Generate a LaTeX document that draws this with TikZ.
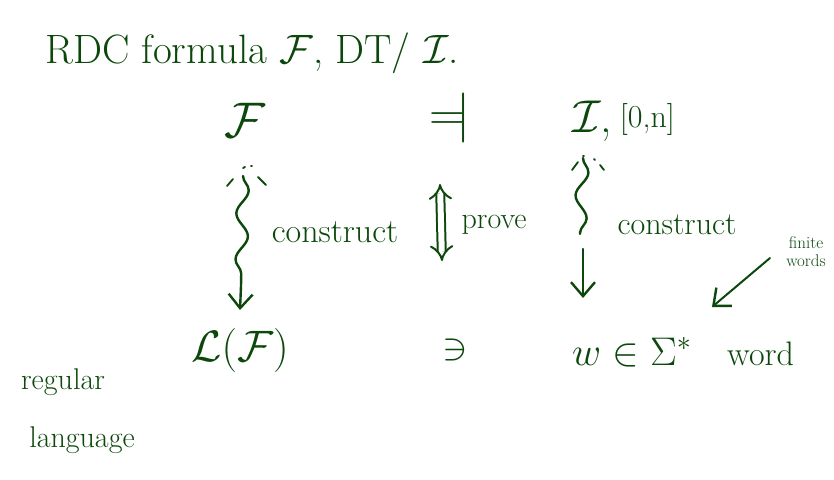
\RequirePackage{fix-cm}
\documentclass[tikz,border=0pt]{standalone}
\usepackage{graphicx}
\usepackage{amssymb}
\usetikzlibrary{arrows.meta,decorations.pathmorphing}
\definecolor{ink}{RGB}{12,72,12}
\tikzset{
  inkline/.style={draw=ink, line width=2.4pt, line cap=round, line join=round},
  inkthin/.style={draw=ink, line width=1.8pt, line cap=round},
  txt/.style={text=ink, inner sep=0pt},
  barb/.style={-{Straight Barb[length=14pt,width=24pt,line width=2.4pt]}},
  wiggle/.style={decorate, decoration={snake, amplitude=6pt, segment length=46pt}}
}
\begin{document}
\begin{tikzpicture}[x=1pt,y=-1pt]
\useasboundingbox (0,0) rectangle (834,479);
% title
\node[txt, anchor=base west, font=\fontsize{41}{44}\selectfont] (title) at (45,63) {RDC formula $\mathcal{F}$, DT/ $\mathcal{I}$.};
% top row
\node[txt, font=\fontsize{50}{54}\selectfont] (F) at (245,120) {$\mathcal{F}$};
\node[txt, font=\fontsize{50}{54}\selectfont] (mod) at (450,118) {\reflectbox{$\models$}};
\node[txt, anchor=base west, font=\fontsize{46}{50}\selectfont] (I) at (572,132) {$\mathcal{I}$,\,\raisebox{5pt}{\fontsize{32}{34}\selectfont[0,n]}};
% bottom row
\node[txt, font=\fontsize{44}{48}\selectfont] (L) at (240,350) {$\mathcal{L}(\mathcal{F})$};
\node[txt, font=\fontsize{38}{40}\selectfont] (ni) at (455,350) {$\ni$};
\node[txt, anchor=base west, font=\fontsize{40}{44}\selectfont] (w) at (572,365) {$w\in\Sigma^{*}$};
\node[txt, anchor=base west, font=\fontsize{34}{38}\selectfont] (word) at (727,365) {word};
% labels
\node[txt, font=\fontsize{34}{38}\selectfont] (c1) at (335,232) {construct};
\node[txt, font=\fontsize{30}{32}\selectfont] (prove) at (494,225) {prove};
\node[txt, font=\fontsize{32}{36}\selectfont] (c2) at (677,225) {construct};
\node[txt, align=center, font=\fontsize{17}{18}\selectfont] (fw) at (806,252) {finite\\words};
\node[txt, font=\fontsize{30}{34}\selectfont] (reg) at (63,382) {regular};
\node[txt, font=\fontsize{30}{34}\selectfont] (lang) at (82,440) {language};
% left construct arrow
\coordinate (la0) at (243,176);
\coordinate (la1) at (241,286);
\coordinate (la2) at (240,310);
\draw[inkline, wiggle] (la0) -- (la1);
\draw[inkline, barb] (la1) -- (la2);
\draw[inkthin] (227,186) -- (233,179);
\draw[inkthin] (243,168) -- (245,167);
\draw[inkthin] (251,166) -- (252,166);
\draw[inkthin] (258,177) -- (266,185);
% prove double arrow
\coordinate (pt) at (440,184);
\coordinate (pb) at (442,261);
\draw[draw=ink, line width=2pt, double=white, double distance=6pt, {Implies}-{Implies}] (pt) -- (pb);
% right construct arrow
\coordinate (ra0) at (583,158);
\coordinate (ra1) at (580,234);
\coordinate (ra2) at (583,249);
\coordinate (ra3) at (583,298);
\draw[inkline, wiggle] (ra0) -- (ra1);
\draw[inkline, barb] (ra2) -- (ra3);
\draw[inkthin] (572,170) -- (578,162);
\draw[inkthin] (583,156) -- (584,156);
\draw[inkthin] (594,159) -- (595,160);
\draw[inkthin] (600,165) -- (604,170);
% finite words pointer
\coordinate (fa0) at (770,258);
\coordinate (fa1) at (712,307);
\draw[inkline, line width=2pt, barb] (fa0) -- (fa1);
\end{tikzpicture}
\end{document}
